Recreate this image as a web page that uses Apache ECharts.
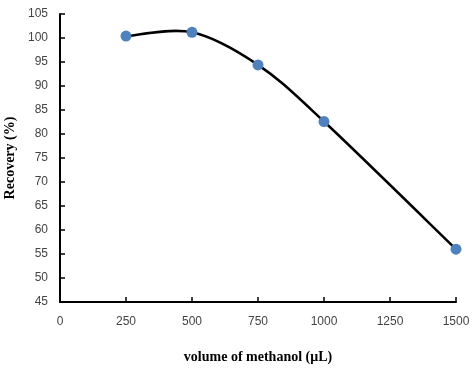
<!DOCTYPE html>
<html>
<head>
<meta charset="utf-8">
<script src="https://cdn.jsdelivr.net/npm/echarts@6/dist/echarts.min.js"></script>
<style>
  html, body { margin: 0; padding: 0; background: #fff; }
  #chart { width: 476px; height: 368px; }
</style>
</head>
<body>
<div id="chart"></div>
<script>
// volume of methanol (uL) vs recovery (%)
const volumes = [250, 500, 750, 1000, 1500]
const recovery = [100.4, 101.2, 94.4, 82.6, 56.0]

const chart = echarts.init(document.getElementById('chart'))

const points = volumes.map((v, i) => [v, recovery[i]])

// spreadsheet-style smoothed line (catmull-rom through the points, in pixel space)
function renderCurve(params, api) {
    if (params.dataIndex !== 0) return
    const p = points.map(d => api.coord(d))
    const segs = []
    for (let i = 0; i < p.length - 1; i++) {
        const p0 = p[Math.max(i - 1, 0)]
        const p1 = p[i]
        const p2 = p[i + 1]
        const p3 = p[Math.min(i + 2, p.length - 1)]
        segs.push({
            type: 'bezierCurve',
            shape: {
                x1: p1[0], y1: p1[1],
                x2: p2[0], y2: p2[1],
                cpx1: p1[0] + (p2[0] - p0[0]) / 6,
                cpy1: p1[1] + (p2[1] - p0[1]) / 6,
                cpx2: p2[0] - (p3[0] - p1[0]) / 6,
                cpy2: p2[1] - (p3[1] - p1[1]) / 6
            },
            style: { stroke: '#000', lineWidth: 2.5, fill: null }
        })
    }
    return { type: 'group', children: segs }
}

const labelFmt = v => String(v)

chart.setOption({
    animation: false,
    grid: { left: 60, right: 20, top: 14, bottom: 66, outerBoundsMode: 'none', containLabel: false },
    xAxis: {
        type: 'value',
        min: 0,
        max: 1500,
        interval: 250,
        name: 'volume of methanol (μL)',
        nameLocation: 'middle',
        nameGap: 48,
        nameTextStyle: {
            fontFamily: 'Liberation Serif',
            fontWeight: 'bold',
            fontSize: 14,
            color: '#000'
        },
        splitLine: { show: false },
        axisLine: { lineStyle: { color: '#000', width: 2 } },
        axisTick: { inside: true, length: 5, lineStyle: { color: '#000', width: 1.5 } },
        axisLabel: { margin: 14, fontFamily: 'Liberation Sans', fontSize: 12, color: '#444', formatter: labelFmt }
    },
    yAxis: {
        type: 'value',
        min: 45,
        max: 105,
        interval: 5,
        name: 'Recovery (%)',
        nameLocation: 'middle',
        nameGap: 42,
        nameTextStyle: {
            fontFamily: 'Liberation Serif',
            fontWeight: 'bold',
            fontSize: 14,
            color: '#000'
        },
        splitLine: { show: false },
        axisLine: { show: true, lineStyle: { color: '#000', width: 2 } },
        axisTick: { show: true, inside: true, length: 5, lineStyle: { color: '#000', width: 1.5 } },
        axisLabel: { margin: 12, fontFamily: 'Liberation Sans', fontSize: 12, color: '#444', formatter: labelFmt }
    },
    series: [{
        type: 'custom',
        data: points,
        renderItem: renderCurve,
        z: 1,
        silent: true
    }, {
        type: 'scatter',
        data: points,
        symbol: 'circle',
        symbolSize: 11,
        z: 3,
        itemStyle: { color: '#4F81BD', opacity: 1 }
    }]
})
</script>
</body>
</html>
